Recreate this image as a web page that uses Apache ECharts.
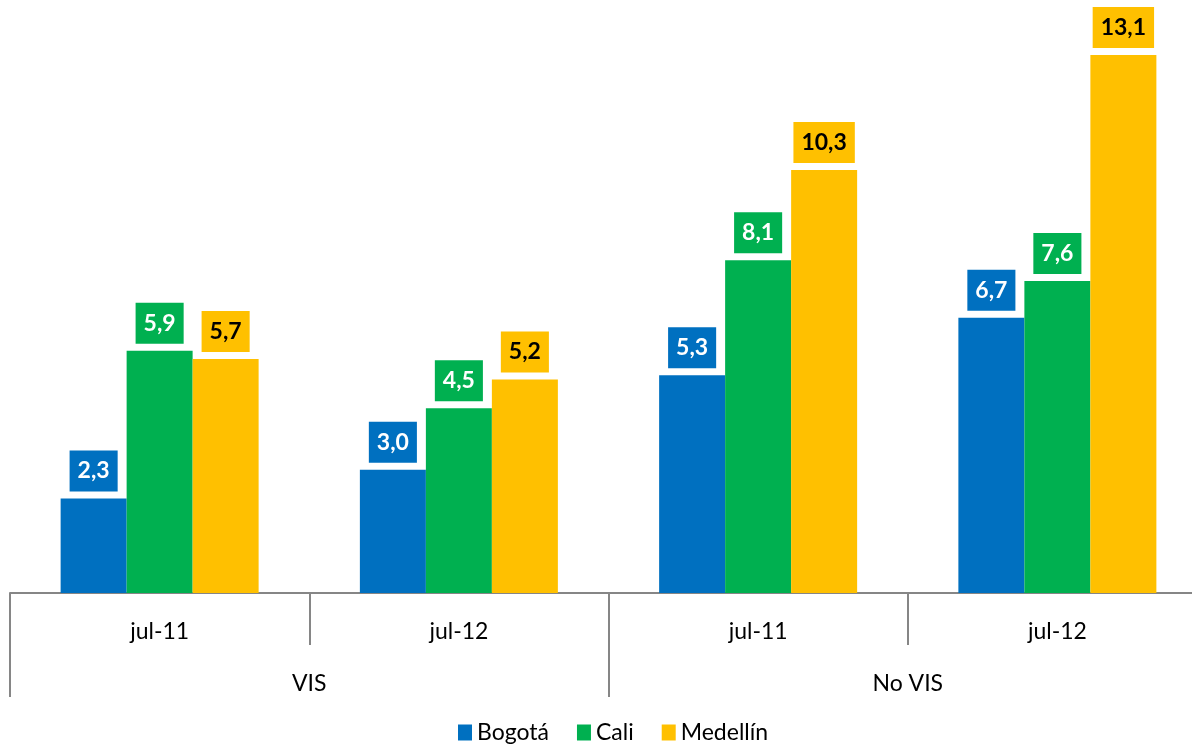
<!DOCTYPE html>
<html>
<head>
<meta charset="utf-8">
<script src="https://cdn.jsdelivr.net/npm/echarts@6/dist/echarts.min.js"></script>
<style>
  html, body { margin: 0; padding: 0; background: #ffffff; }
  #chart { width: 1192px; height: 750px; }
</style>
</head>
<body>
<div id="chart"></div>
<script>
  // datos
  var fechas = ['jul-11', 'jul-12', 'jul-11', 'jul-12'];
  var grupos = ['VIS', 'No VIS'];
  var bogota = [2.3, 3.0, 5.3, 6.7];
  var cali = [5.9, 4.5, 8.1, 7.6];
  var medellin = [5.7, 5.2, 10.3, 13.1];

  var fuente = 'Lato, "Open Sans", sans-serif';

  function serie(nombre, datos, color, colorTexto) {
    return {
      name: nombre,
      type: 'bar',
      xAxisIndex: 0,
      data: datos,
      barWidth: 66,
      barGap: '0%',
      itemStyle: { color: color },
      label: {
        show: true,
        position: 'top',
        distance: 7,
        backgroundColor: color,
        padding: [9, 8, 9, 8],
        color: colorTexto,
        fontFamily: fuente,
        fontWeight: 'bold',
        fontSize: 23,
        lineHeight: 23,
        formatter: function (p) {
          return p.value.toFixed(1).replace('.', ',');
        }
      }
    };
  }

  var myChart = echarts.init(document.getElementById('chart'));

  myChart.setOption({
    animation: false,
    grid: { left: 10, top: 0, width: 1197, height: 593, outerBoundsMode: 'none', containLabel: false },
    legend: {
      data: ['Bogotá', 'Cali', 'Medellín'],
      bottom: 1,
      left: 453,
      icon: 'rect',
      itemWidth: 14,
      itemHeight: 16,
      itemGap: 28,
      textStyle: { fontFamily: fuente, fontSize: 23, color: '#000000' }
    },
    xAxis: [
      {
        type: 'category',
        data: fechas,
        position: 'bottom',
        axisLine: { lineStyle: { color: '#868686', width: 2 } },
        axisTick: { show: true, interval: 0, length: 52, lineStyle: { color: '#868686', width: 2 } },
        axisLabel: { interval: 0, margin: 27, fontFamily: fuente, fontSize: 23, color: '#000000' }
      },
      {
        type: 'category',
        data: grupos,
        position: 'bottom',
        axisLine: { show: false },
        axisTick: { show: true, interval: 0, length: 104, lineStyle: { color: '#868686', width: 2 } },
        axisLabel: { interval: 0, margin: 79, fontFamily: fuente, fontSize: 23, color: '#000000' }
      }
    ],
    yAxis: {
      type: 'value',
      min: 0,
      max: 14.44,
      show: false,
      splitLine: { show: false }
    },
    series: [
      serie('Bogotá', bogota, '#0070C0', '#ffffff'),
      serie('Cali', cali, '#00B050', '#ffffff'),
      serie('Medellín', medellin, '#FFC000', '#000000')
    ]
  });
</script>
</body>
</html>
